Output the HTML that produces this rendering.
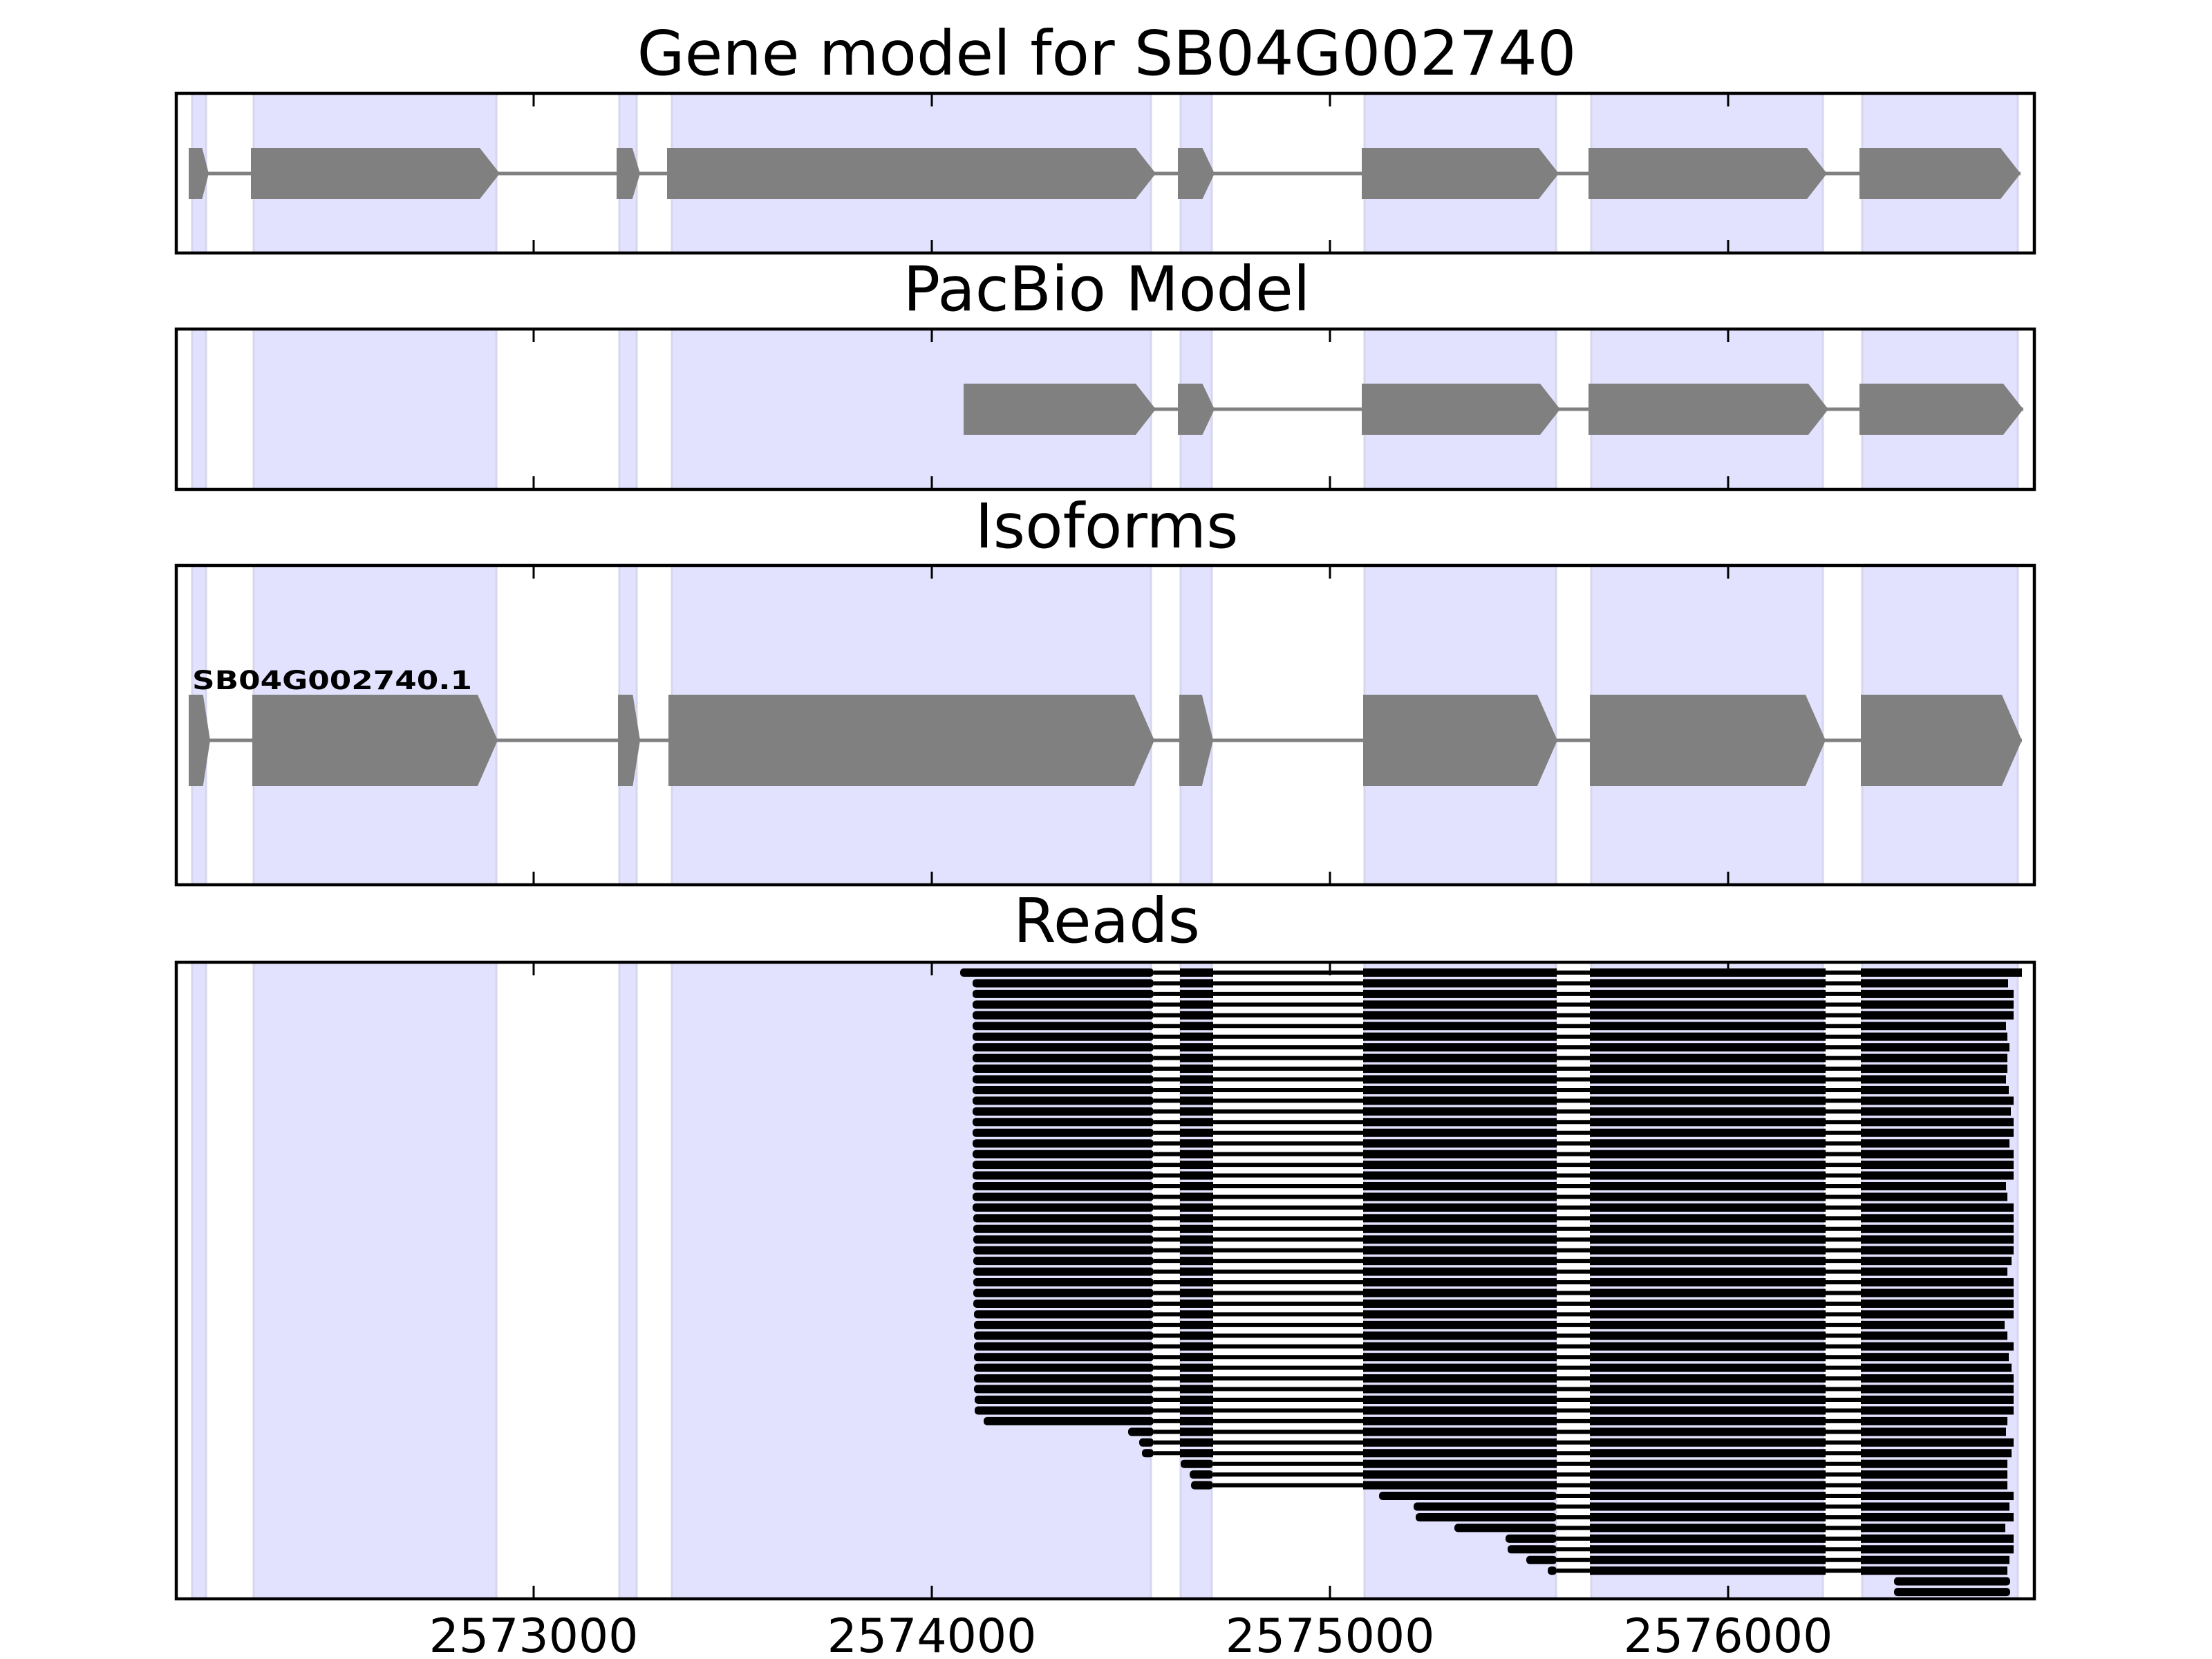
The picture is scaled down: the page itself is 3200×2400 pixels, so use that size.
<!DOCTYPE html>
<html><head><meta charset="utf-8"><style>
html,body{margin:0;padding:0;background:#fff;}
svg{display:block;}
text{font-family:"DejaVu Sans","Liberation Sans",sans-serif;fill:#000;}
</style></head><body>
<svg id="s" width="3200" height="2400" viewBox="0 0 3200 2400" xmlns="http://www.w3.org/2000/svg">
<g id="bands"></g>
<g id="shapes"></g>
<g id="frames"></g>
<text x="1601" y="108" font-size="89" text-anchor="middle">Gene model for SB04G002740</text>
<text x="1601" y="449" font-size="89" text-anchor="middle">PacBio Model</text>
<text x="1601" y="792" font-size="89" text-anchor="middle">Isoforms</text>
<text x="1601" y="1363" font-size="89" text-anchor="middle">Reads</text>
<text x="278" y="997" font-size="37" font-weight="bold" textLength="405" lengthAdjust="spacingAndGlyphs">SB04G002740.1</text>
<text x="772" y="2390" font-size="68" text-anchor="middle">2573000</text>
<text x="1348" y="2390" font-size="68" text-anchor="middle">2574000</text>
<text x="1924" y="2390" font-size="68" text-anchor="middle">2575000</text>
<text x="2500" y="2390" font-size="68" text-anchor="middle">2576000</text>
</svg>
<script>
var NS="http://www.w3.org/2000/svg";
function el(p,t,a){var e=document.createElementNS(NS,t);for(var k in a)e.setAttribute(k,a[k]);p.appendChild(e);return e;}
var B=document.getElementById('bands'),S=document.getElementById('shapes'),F=document.getElementById('frames');
var panels=[[135,366],[476,708],[818,1280],[1392,2313]];
var L=255,R=2943;
var bands=[[278,298],[367,718],[896,921],[972,1665],[1708,1753],[1974,2251],[2302,2637],[2694,2919]];
panels.forEach(function(p){
  bands.forEach(function(b){el(B,'rect',{x:b[0],y:p[0],width:b[1]-b[0],height:p[1]-p[0],fill:'#e2e2fe',stroke:'#d6d6ee','stroke-width':3});});
});
function gene(exons,yc,h){
  el(S,'line',{x1:exons[0][0],x2:exons[exons.length-1][1],y1:yc,y2:yc,stroke:'#808080','stroke-width':5});
  exons.forEach(function(e){
    var w=e[1]-e[0],d=Math.min(29,w*0.33);
    var pts=[[e[0],yc-h],[e[1]-d,yc-h],[e[1],yc],[e[1]-d,yc+h],[e[0],yc+h]].map(function(q){return q.join(',');}).join(' ');
    el(S,'polygon',{points:pts,fill:'#808080'});
  });
}
gene([[273,302],[363,723],[892,926],[965,1672],[1704,1757],[1970,2255],[2298,2643],[2690,2923]],251,37);
gene([[1394,1672],[1704,1757],[1970,2257],[2298,2645],[2690,2927]],592,37);
gene([[273,304],[365,720],[894,926],[967,1670],[1706,1755],[1972,2253],[2300,2641],[2692,2925]],1071,66);
var ex=[[0,1669],[1707,1755],[1972,2252],[2300,2641],[2692,9999]];
var starts=[1389,1407,1407,1407,1407,1407,1407,1407,1407,1407,1407,1407,1407,1407,1407,1407,1407,1407,1407,1407,1407,1407,1407,1408,1408,1408,1408,1408,1408,1408,1408,1408,1409,1409,1409,1409,1409,1409,1409,1409,1410,1410,1423,1632,1648,1652,1708,1721,1723,1995,2045,2048,2104,2178,2181,2208,2239,2740,2740];
var ends=[2925,2905,2913,2913,2913,2902,2904,2907,2904,2904,2902,2906,2913,2909,2913,2913,2907,2913,2913,2913,2902,2904,2913,2913,2913,2913,2913,2910,2904,2913,2913,2913,2913,2900,2904,2913,2906,2910,2913,2913,2913,2913,2904,2902,2913,2910,2904,2904,2904,2913,2907,2913,2901,2913,2913,2907,2904,2908,2908];
for(var i=0;i<59;i++){
  var y=1407+i*15.45,s=starts[i],e=ends[i];
  var segs=[];
  ex.forEach(function(x){var a=Math.max(x[0],s),b=Math.min(x[1],e);if(b>a)segs.push([a,b]);});
  if(segs.length>1) el(S,'line',{x1:segs[0][1],x2:segs[segs.length-1][0],y1:y,y2:y,stroke:'#000','stroke-width':6});
  segs.forEach(function(g,j){
    el(S,'rect',{x:g[0],y:y-6,width:g[1]-g[0],height:12,fill:'#000',rx:(j==0?5:0)});
  });
}
var ticks=[772,1348,1924,2500];
panels.forEach(function(p){
  ticks.forEach(function(t){
    el(F,'line',{x1:t,x2:t,y1:p[0],y2:p[0]+19,stroke:'#000','stroke-width':3});
    el(F,'line',{x1:t,x2:t,y1:p[1]-19,y2:p[1],stroke:'#000','stroke-width':3});
  });
  el(F,'rect',{x:L,y:p[0],width:R-L,height:p[1]-p[0],fill:'none',stroke:'#000','stroke-width':4.5});
});
</script>
</body></html>
